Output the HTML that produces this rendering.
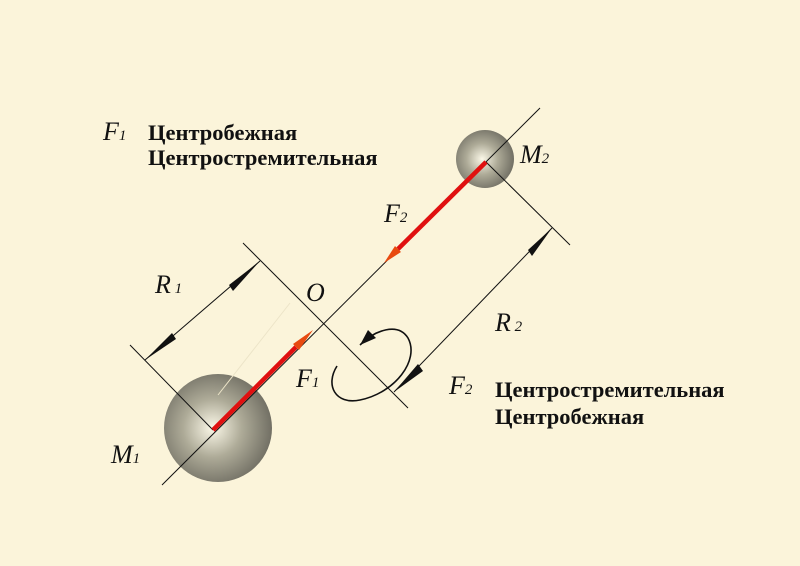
<!DOCTYPE html>
<html><head><meta charset="utf-8"><style>
html,body{margin:0;padding:0;background:#fbf4da;}
svg{display:block}
.s{font-family:"Liberation Serif",serif;font-style:italic;font-size:26px;fill:#111}
.b{font-family:"Liberation Serif","Noto Serif CJK SC",serif;font-weight:bold;font-size:22.5px;fill:#111}
</style></head><body>
<svg width="800" height="566" viewBox="0 0 800 566" xmlns="http://www.w3.org/2000/svg">
<defs>
<radialGradient id="g" cx="0.45" cy="0.5" r="0.6">
<stop offset="0" stop-color="#fbf8e8"/><stop offset="0.45" stop-color="#aeab98"/><stop offset="1" stop-color="#67655b"/>
</radialGradient>
</defs>
<rect width="800" height="566" fill="#fbf4da"/>
<circle cx="218" cy="428" r="54" fill="url(#g)"/>
<circle cx="485" cy="159" r="29" fill="url(#g)"/>
<line x1="218" y1="395" x2="290" y2="303" stroke="#ece4c8" stroke-width="1"/>
<g stroke="#111" stroke-width="1" fill="none">
<line x1="162" y1="485" x2="540" y2="108"/>
<line x1="130" y1="345" x2="213" y2="430"/>
<line x1="243" y1="243" x2="408" y2="408"/>
<line x1="486" y1="162" x2="570" y2="245"/>
<line x1="145" y1="360" x2="260" y2="261"/>
<line x1="394" y1="392" x2="552" y2="228"/>
<path d="M337 366 C325 385 335 405 360 400 C395 393 420 360 408 338 C398 322 375 330 360 345" stroke-width="1.6"/>
</g>
<g fill="#111">
<polygon points="145,360 172,333 176,339"/>
<polygon points="260,261 229,285 233,291"/>
<polygon points="394,392 418,364 423,371"/>
<polygon points="552,228 528,250 532,256"/>
<polygon points="360,345 368,330 376,338"/>
</g>
<line x1="213" y1="430" x2="296" y2="347" stroke="#e01010" stroke-width="4.5"/>
<polygon points="299,350 293,344 313,330" fill="#e84a10"/>
<line x1="486" y1="162" x2="398" y2="249" stroke="#e01010" stroke-width="4.5"/>
<polygon points="401,252 395,246 384,263" fill="#e84a10"/>
<text class="s" x="103" y="140">F<tspan font-size="15">1</tspan></text>
<text class="b" x="148" y="140">Центробежная</text>
<text class="b" x="148" y="165">Центростремительная</text>
<text class="s" x="520" y="163">M<tspan font-size="15">2</tspan></text>
<text class="s" x="384" y="222">F<tspan font-size="15">2</tspan></text>
<text class="s" x="155" y="293">R<tspan font-size="15"> 1</tspan></text>
<text class="s" x="306" y="301">O</text>
<text class="s" x="296" y="387">F<tspan font-size="15">1</tspan></text>
<text class="s" x="495" y="331">R<tspan font-size="15"> 2</tspan></text>
<text class="s" x="449" y="394">F<tspan font-size="15">2</tspan></text>
<text class="b" x="495" y="397">Центростремительная</text>
<text class="b" x="495" y="424">Центробежная</text>
<text class="s" x="111" y="463">M<tspan font-size="15">1</tspan></text>
</svg>
</body></html>
